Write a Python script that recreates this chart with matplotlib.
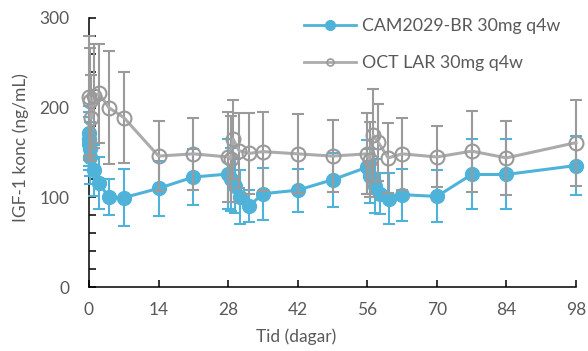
import matplotlib
matplotlib.use("Agg")
import matplotlib.pyplot as plt
from matplotlib.lines import Line2D

# --- data (days, IGF-1 mean, SD)
cam_days = [0, 0.04, 0.08, 0.17, 0.25, 1, 2, 4, 7, 14, 21, 28, 28.5, 29.4, 30.4, 32.2, 35,
            42, 49, 56, 56.5, 57.5, 58.5, 60.4, 63, 70, 77, 84, 98]
cam_vals = [172, 165, 160, 154, 145, 130, 116, 100, 99.6, 110, 122.6, 126, 120, 113, 100, 90.4, 104,
            108, 119.6, 133.7, 124, 113, 104, 98.5, 103, 101, 125.5, 125.5, 135.5]
cam_sd = [30, 30, 30, 30, 30, 28, 29, 20, 32, 31, 31, 39, 35, 30, 30, 18, 29,
          24, 30, 30, 30, 30, 23, 28.5, 29, 29, 39, 39, 33]

oct_days = [0, 0.25, 0.5, 1, 2, 4, 7, 14, 21, 28, 28.5, 29, 30.2, 32.2, 35,
            42, 49, 56, 56.5, 57.2, 58.2, 60.2, 63, 70, 77, 84, 98]
oct_vals = [211.5, 207, 188, 213, 216, 200, 189, 146, 148.5, 145, 143, 165, 152, 149, 151,
            148.5, 146, 148.5, 142, 169, 161.5, 144, 148.5, 145, 151.5, 144, 161]
oct_sd = [68, 60, 48, 58, 55, 63, 51, 39, 40, 50, 48, 44, 42, 45, 44,
          44, 40, 45, 42, 52, 43, 39, 40, 34, 45, 41, 48]

labels = ["CAM2029-BR 30mg q4w", "OCT LAR 30mg q4w"]
x_ticks = [0, 14, 28, 42, 56, 70, 84, 98]
y_ticks = [0, 100, 200, 300]

blue = "#4FB3D9"
grey_line = "#ABABAB"
grey_dark = "#9A9A9A"
text_col = "#595959"

plt.rcParams['font.family'] = ['Lato', 'DejaVu Sans']

fig = plt.figure(figsize=(5.88, 3.51), dpi=100)
ax = fig.add_axes([89 / 588, 1 - 287 / 351, (576 - 89) / 588, (287 - 18) / 351])

ax.errorbar(cam_days, cam_vals, yerr=cam_sd, color=blue, lw=2.2, marker='o', ms=10,
            mfc=blue, mec=blue, ecolor=blue, elinewidth=1.5, capsize=4.5, capthick=1.5,
            clip_on=False, zorder=3)
ax.errorbar(oct_days, oct_vals, yerr=oct_sd, color=grey_line, lw=2.2, marker='o', ms=10,
            mfc='none', mec=grey_dark, mew=1.5, ecolor=grey_dark, elinewidth=1.5,
            capsize=4.5, capthick=1.5, clip_on=False, zorder=4)

ax.set_xlim(0, 98)
ax.set_ylim(0, 300)
ax.set_xticks(x_ticks)
ax.set_yticks(y_ticks)
ax.set_yticks(range(0, 301, 20), minor=True)
ax.tick_params(axis='both', which='both', direction='in', length=5, width=1.1,
               colors='black', labelcolor=text_col, labelsize=12.5)
ax.tick_params(axis='y', pad=14)
ax.tick_params(axis='x', pad=11)
for s in ['top', 'right']:
    ax.spines[s].set_visible(False)
for s in ['left', 'bottom']:
    ax.spines[s].set_linewidth(1.1)

fig.text(21 / 588, 1 - 148 / 351, "IGF-1 konc (ng/mL)", rotation=90, ha='center', va='center',
         color=text_col, fontsize=12.5)
fig.text(296 / 588, 1 - 337 / 351, "Tid (dagar)", ha='center', va='center',
         color=text_col, fontsize=12.5)

handles = [Line2D([], [], color=blue, lw=2, marker='o', ms=7, mfc=blue, mec=blue),
           Line2D([], [], color=grey_line, lw=2, marker='o', ms=5, mfc='none', mec=grey_dark, mew=1.2)]
leg = ax.legend(handles, labels, loc='upper left', bbox_to_anchor=(295 / 588, 1 - 9 / 351),
                bbox_transform=fig.transFigure, frameon=False, fontsize=12.8,
                handlelength=2.95, handletextpad=0.3, labelspacing=1.2, borderpad=0)
for t in leg.get_texts():
    t.set_color(text_col)

fig.savefig("out.png", dpi=100)
